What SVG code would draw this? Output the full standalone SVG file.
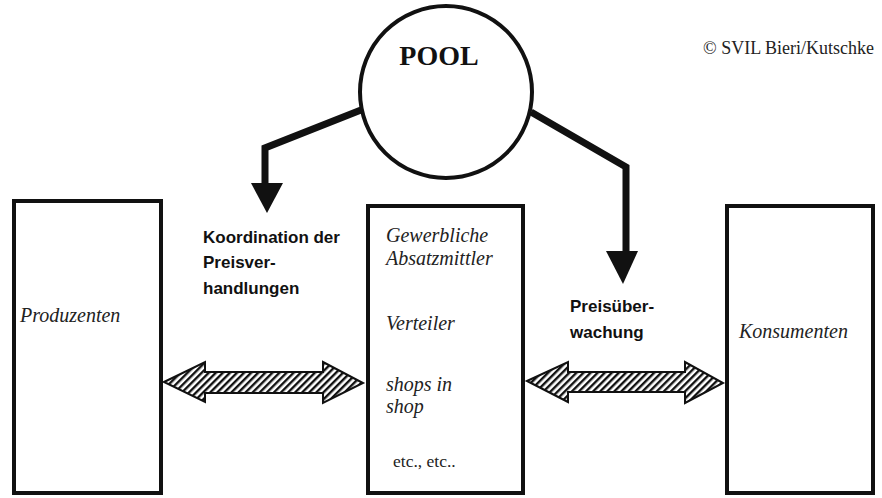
<svg xmlns="http://www.w3.org/2000/svg" width="882" height="498" viewBox="0 0 882 498">
<defs>
<pattern id="hatch" patternUnits="userSpaceOnUse" width="5" height="5" patternTransform="rotate(45)">
<rect width="5" height="5" fill="#fff"/>
<rect width="2.4" height="5" fill="#111"/>
</pattern>
</defs>
<style>
.box{fill:#fff;stroke:#111;stroke-width:4}
.it{font-family:"Liberation Serif",serif;font-style:italic;font-size:20px;fill:#222}
.lbl{font-family:"Liberation Sans",Arial,sans-serif;font-weight:bold;font-size:17px;fill:#111}
.conn{fill:none;stroke:#111;stroke-width:7;stroke-linejoin:miter}
.head{fill:#111}
.dbl{fill:url(#hatch);stroke:#111;stroke-width:2;stroke-linejoin:miter}
</style>
<rect width="882" height="498" fill="#fff"/>
<text x="703" y="54" font-family="Liberation Serif,serif" font-size="18" fill="#222">© SVIL Bieri/Kutschke</text>
<g id="pool">
<circle cx="446" cy="92" r="86" fill="#fff" stroke="#111" stroke-width="4"/>
<text x="439" y="65" text-anchor="middle" font-family="Liberation Serif,serif" font-weight="bold" font-size="28" fill="#111">POOL</text>
</g>
<g id="produzenten">
<rect class="box" x="14" y="201" width="147" height="292"/>
<text class="it" x="20" y="322">Produzenten</text>
</g>
<g id="absatzmittler">
<rect class="box" x="368" y="206" width="155" height="287"/>
<text class="it" x="386" y="242">Gewerbliche</text>
<text class="it" x="386" y="265">Absatzmittler</text>
<text class="it" x="386" y="330">Verteiler</text>
<text class="it" x="386" y="391">shops in</text>
<text class="it" x="386" y="413">shop</text>
<text x="393" y="467" font-family="Liberation Serif,serif" font-size="17.5" fill="#222">etc., etc..</text>
</g>
<g id="konsumenten">
<rect class="box" x="727" y="206" width="146" height="287"/>
<text class="it" x="739" y="338">Konsumenten</text>
</g>
<g id="labels">
<text class="lbl" x="203" y="243">Koordination der</text>
<text class="lbl" x="203" y="268">Preisver-</text>
<text class="lbl" x="203" y="294">handlungen</text>
<text class="lbl" x="570" y="312">Preisüber-</text>
<text class="lbl" x="570" y="338">wachung</text>
</g>
<g id="connectors">
<polyline class="conn" points="361,110 265,148 265,186"/>
<polygon class="head" points="251,183 283,183 267,213"/>
<polyline class="conn" points="531,112 626,167 626,254"/>
<polygon class="head" points="606,251 638,251 623,284"/>
<polygon class="dbl" points="164,382 205,362 205,372 323,372 323,362 363,383 323,403 323,393 205,393 205,402"/>
<polygon class="dbl" points="527,381 568,362 568,372 685,372 685,362 723,383 685,403 685,392 568,392 568,402"/>
</g>
</svg>
